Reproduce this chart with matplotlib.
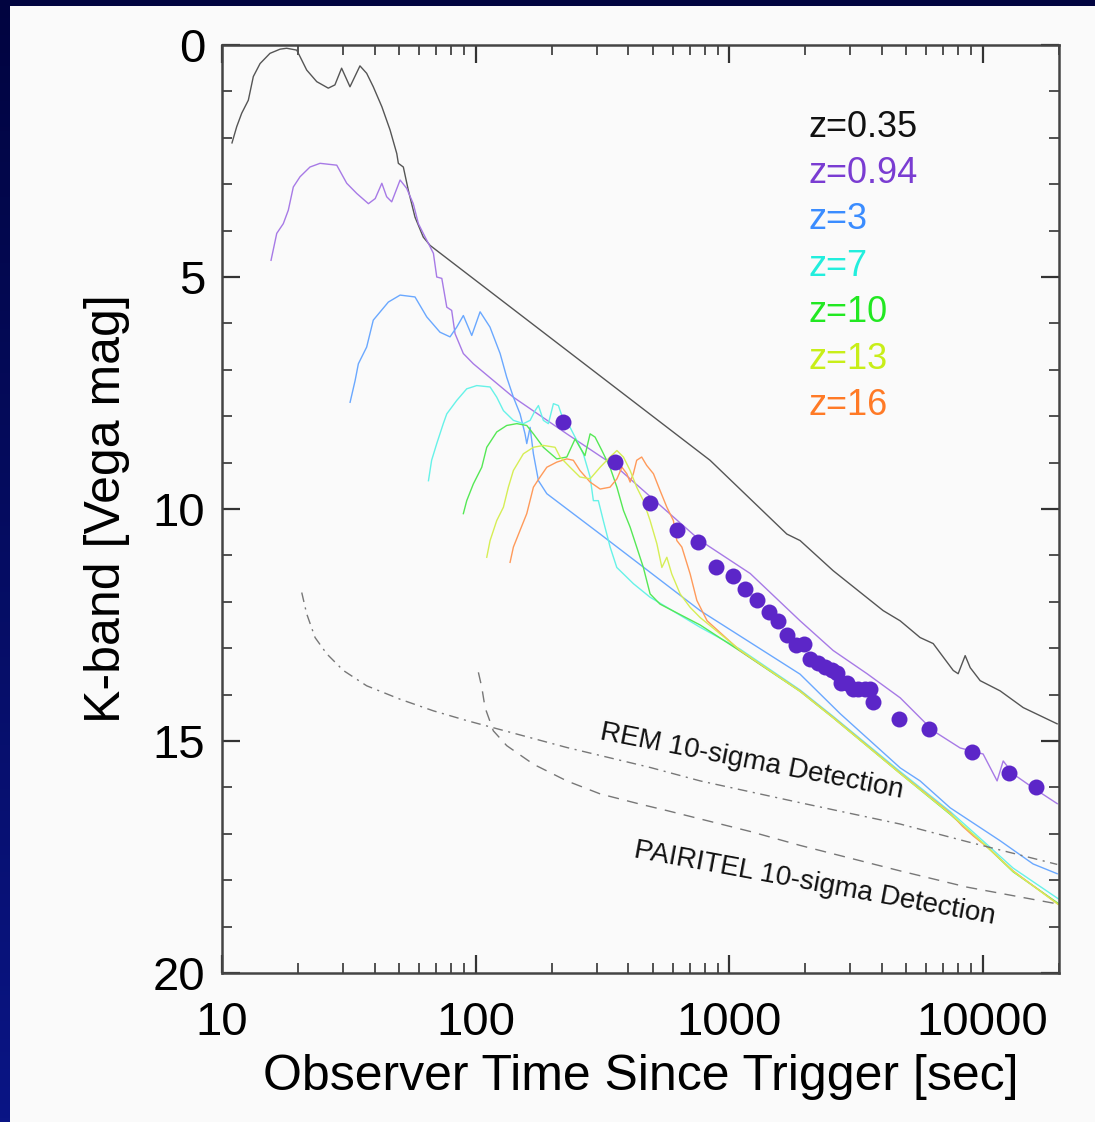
import matplotlib
matplotlib.use("Agg")
import matplotlib.pyplot as plt
import numpy as np
from matplotlib.ticker import FixedLocator, NullFormatter

plt.rcParams['font.family'] = ['Liberation Sans', 'DejaVu Sans']

# ---- light curves (time [s], K mag) ----
t_z035 = [10.95, 11.43, 11.96, 12.70, 13.29, 14.13, 15.46, 16.94, 17.99, 19.71, 20.31, 21.58,
          23.64, 26.25, 27.88, 29.63, 31.97, 35.0, 37.2, 39.5, 42.7, 46.0, 48.9, 49.6, 51.9,
          54.3, 57.7, 62.2, 66.2, 841, 1689, 1905, 2573, 4051, 4727, 5664, 6380, 7656, 8004,
          8531, 8931, 9777, 11720, 14450, 19670]
m_z035 = [2.11, 1.76, 1.47, 1.19, 0.68, 0.40, 0.18, 0.09, 0.07, 0.11, 0.25, 0.54,
          0.79, 0.93, 0.86, 0.50, 0.90, 0.45, 0.61, 0.90, 1.33, 1.83, 2.34, 2.55, 2.63,
          3.13, 3.71, 4.14, 4.32, 8.95, 10.54, 10.68, 11.33, 12.19, 12.41, 12.77, 12.90, 13.48, 13.55,
          13.16, 13.42, 13.70, 13.92, 14.28, 14.63]

t_z094 = [15.61, 16.44, 17.45, 18.26, 19.11, 20.31, 22.23, 24.36, 28.35, 31.04, 34.0, 37.8,
          40.2, 42.7, 44.6, 46.7, 50.4, 53.5, 56.8, 59.5, 62.2, 66.2, 68.2, 70.3, 73.6, 77.0,
          80.5, 83.0, 89.5, 98.0, 140.9, 229, 361, 769, 1211, 1905, 2573, 3500, 4730, 6380,
          8150, 10040, 11400, 12050, 13190, 15810, 19680]
m_z094 = [4.64, 4.06, 3.85, 3.56, 3.06, 2.84, 2.63, 2.55, 2.59, 2.98, 3.20, 3.42,
          3.31, 2.98, 3.27, 3.38, 2.91, 3.09, 3.42, 3.85, 4.06, 4.35, 4.49, 5.00, 5.03, 5.65,
          5.72, 6.22, 6.65, 6.87, 7.59, 8.38, 9.10, 10.68, 11.39, 12.41, 13.05, 13.55, 14.07, 14.78,
          15.15, 15.28, 15.86, 15.43, 15.71, 16.01, 16.35]

t_z3 = [32.0, 33.5, 34.5, 37.2, 39.5, 45.3, 50.4, 57.7, 64.2, 72.4, 79.3, 84.3, 89.5, 96.6,
        104.2, 114.0, 125.0, 132.7, 141, 149.8, 156.7, 159.2, 164.1, 169.1, 177.0, 191.0, 310,
        769, 1905, 2740, 4730, 5665, 7445, 11720, 15810, 19670]
m_z3 = [7.70, 7.23, 6.87, 6.51, 5.93, 5.54, 5.39, 5.43, 5.86, 6.19, 6.29, 6.08, 5.83, 6.26,
        5.75, 6.08, 6.65, 7.16, 7.59, 7.95, 8.38, 8.59, 8.24, 8.81, 9.39, 9.67, 10.54,
        12.19, 13.56, 14.41, 15.58, 15.86, 16.44, 17.15, 17.65, 17.86]

t_z7 = [65.2, 67.1, 70.3, 74.6, 77.0, 84.3, 92.3, 101.1, 114.1, 121.2, 128.8, 141, 154.4, 164.1,
        171.7, 177, 185.1, 193.7, 202.8, 212.2, 222.1, 235.9, 250.6, 266, 283, 291.5, 305, 319,
        339.4, 360.6, 419.4, 487.5, 769, 1104, 1905, 2573, 4730, 7445, 10500, 13190, 19860]
m_z7 = [9.39, 8.95, 8.59, 8.16, 7.95, 7.66, 7.41, 7.34, 7.37, 7.59, 7.88, 8.09, 8.16, 8.09,
        7.88, 7.77, 8.09, 8.16, 7.73, 7.77, 8.09, 8.24, 8.52, 8.81, 9.31, 9.82, 9.82, 10.25,
        10.82, 11.26, 11.61, 11.90, 12.55, 13.02, 13.90, 14.47, 15.66, 16.52, 17.25, 17.74, 18.40]

t_z10 = [89.5, 92.3, 98.0, 105.8, 110.7, 121.2, 132.7, 145.4, 159.2, 169.1, 185.1, 209, 229,
         247, 258, 270, 283, 296, 315, 339, 361, 383, 407, 432, 459, 488, 534, 769, 1104, 1905,
         2573, 4730, 7445, 10500, 13190, 19860]
m_z10 = [10.10, 9.82, 9.46, 9.10, 8.67, 8.34, 8.20, 8.16, 8.20, 8.38, 8.67, 8.92, 8.88,
         8.49, 8.67, 8.85, 8.38, 8.45, 8.74, 9.10, 9.53, 10.03, 10.39, 10.82, 11.26, 11.83, 12.05,
         12.50, 13.06, 13.93, 14.50, 15.70, 16.58, 17.30, 17.82, 18.50]

t_z13 = [110.7, 114.1, 121.2, 128.8, 134.7, 141, 154.4, 169.1, 185.1, 205.9, 215.4, 235.9, 258,
         283, 310, 339, 361, 383, 407, 432, 459, 488, 519, 543, 568, 594, 641, 702, 769, 1104,
         1905, 2573, 4730, 7445, 10500, 13190, 19860]
m_z13 = [11.04, 10.68, 10.25, 9.96, 9.53, 9.17, 8.81, 8.67, 8.63, 8.67, 8.88, 9.10, 9.31,
         9.35, 9.10, 8.88, 8.74, 8.88, 9.17, 9.53, 9.82, 10.25, 10.75, 11.26, 11.04, 11.40, 11.83,
         12.12, 12.34, 13.04, 13.93, 14.50, 15.70, 16.57, 17.30, 17.81, 18.52]

t_z16 = [136.8, 141, 149.8, 159.2, 169.1, 179.7, 191, 209, 229, 243, 258, 283, 310, 339, 361,
         378, 395, 407, 419, 432, 452, 473, 503, 534, 568, 603, 622, 651, 702, 746, 819, 1104,
         1905, 2573, 4730, 7445, 8300, 9200, 10500, 13190, 19860]
m_z16 = [11.15, 10.82, 10.46, 10.10, 9.53, 9.31, 9.10, 8.99, 8.92, 8.95, 9.17, 9.42, 9.57,
         9.53, 9.35, 9.10, 9.24, 9.42, 9.24, 8.95, 8.88, 9.06, 9.24, 9.60, 9.96, 10.25, 10.68,
         10.82, 11.40, 11.97, 12.41, 13.05, 13.92, 14.49, 15.69, 16.55, 16.83, 17.05, 17.30, 17.80, 18.52]

# ---- observed points (z=0.94 burst) ----
t_obs = [222, 355, 488, 624, 755, 886, 1034, 1156, 1293, 1435, 1565, 1699, 1838, 1977, 2087,
         2251, 2392, 2541, 2660, 2758, 2929, 3090, 3236, 3440, 3597, 3690, 4686, 6150, 9058,
         12720, 16250]
m_obs = [8.13, 8.98, 9.87, 10.46, 10.72, 11.26, 11.44, 11.72, 11.96, 12.21, 12.42, 12.71, 12.93,
         12.92, 13.23, 13.32, 13.41, 13.48, 13.53, 13.74, 13.74, 13.88, 13.88, 13.88, 13.88, 14.17,
         14.53, 14.74, 15.23, 15.70, 16.00]

# ---- detection limits ----
t_rem = [20.63, 21.58, 23.28, 25.88, 30.1, 37.2, 50.4, 68.2, 92.3, 145.4, 229, 488, 769, 1905,
         4730, 8690, 19680]
m_rem = [11.80, 12.26, 12.77, 13.12, 13.48, 13.81, 14.10, 14.35, 14.56, 14.85, 15.14, 15.57,
         15.86, 16.33, 16.79, 17.17, 17.66]
t_pai = [102.6, 105.8, 109, 117.5, 132.7, 169.1, 229, 310, 445, 569, 1211, 1905, 4730, 8690, 19680]
m_pai = [13.52, 13.84, 14.28, 14.78, 15.10, 15.50, 15.86, 16.14, 16.36, 16.50, 16.95, 17.25,
         17.80, 18.15, 18.51]

labels = ['z=0.35', 'z=0.94', 'z=3', 'z=7', 'z=10', 'z=13', 'z=16']
text_colors = ['#111111', '#7a3cd2', '#3a8cff', '#22eedd', '#22e822', '#c8ee18', '#ff7a26']
line_colors = ['#555555', '#a77ae6', '#6aa8ff', '#66f2e8', '#55e855', '#d6ee55', '#ff9a5a']

fig = plt.figure(figsize=(10.95, 11.22), dpi=100)
fig.patch.set_facecolor('#fafafa')

# navy slide frame (top and left)
frame_top = fig.add_axes([0, 1 - 6 / 1122, 1, 6 / 1122])
frame_top.set_axis_off()
frame_top.add_patch(plt.Rectangle((0, 0), 1, 1, color='#010440', transform=frame_top.transAxes))
frame_left = fig.add_axes([0, 0, 10 / 1095, 1])
grad = np.linspace(0, 1, 256).reshape(-1, 1)
frame_left.imshow(grad, aspect='auto', cmap=matplotlib.colors.LinearSegmentedColormap.from_list(
    'navy', ['#0a1585', '#010440']), origin='lower', extent=[0, 1, 0, 1])
frame_left.set_axis_off()

ax = fig.add_axes([222 / 1095, 1 - 973 / 1122, (1059 - 222) / 1095, (973 - 45) / 1122])
ax.set_facecolor('#fafafa')

curves = [(t_z035, m_z035), (t_z094, m_z094), (t_z3, m_z3), (t_z7, m_z7),
          (t_z10, m_z10), (t_z13, m_z13), (t_z16, m_z16)]
order = [0, 1, 2, 3, 4, 6, 5]
for i in order:
    t, m = curves[i]
    ax.plot(t, m, color=line_colors[i], lw=1.0, zorder=2)

ax.plot(t_obs, m_obs, 'o', color='#5c26c8', ms=11.5, mec='none', zorder=4)

ax.plot(t_rem, m_rem, color='#777777', lw=1.0, dashes=[7, 4, 1.5, 4])
ax.plot(t_pai, m_pai, color='#777777', lw=1.0, dashes=[8, 6])

for i, lab in enumerate(labels):
    ax.text(2050, 1.77 + i, lab, color=text_colors[i], fontsize=26, va='center', ha='left')

ax.text(1233, 15.45, 'REM 10-sigma Detection', fontsize=20, rotation=-11,
        rotation_mode='anchor', ha='center', va='center', color='#111111')
ax.text(2180, 18.08, 'PAIRITEL 10-sigma Detection', fontsize=20, rotation=-10.5,
        rotation_mode='anchor', ha='center', va='center', color='#111111')

ax.set_xscale('log')
ax.set_xlim(10, 20000)
ax.set_ylim(20, 0)

ax.xaxis.set_major_locator(FixedLocator([10, 100, 1000, 10000]))
ax.set_xticklabels(['10', '100', '1000', '10000'])
minors = [k * 10 ** d for d in range(1, 5) for k in range(2, 10) if k * 10 ** d <= 20000]
ax.xaxis.set_minor_locator(FixedLocator(minors))
ax.xaxis.set_minor_formatter(NullFormatter())
ax.yaxis.set_major_locator(FixedLocator([0, 5, 10, 15, 20]))
ax.yaxis.set_minor_locator(FixedLocator(list(range(0, 21))))

ax.tick_params(which='both', direction='in', top=True, right=True, color='#333333')
ax.tick_params(which='major', length=13, width=1.6, labelsize=34, pad=20)
ax.tick_params(which='minor', length=7, width=1.2)
ax.tick_params(axis='y', which='major', pad=12)
for s in ax.spines.values():
    s.set_color('#444444')
    s.set_linewidth(1.8)

ax.set_xlabel('Observer Time Since Trigger [sec]', fontsize=36, labelpad=7)
ax.set_ylabel('K-band [Vega mag]', fontsize=36, labelpad=16)

fig.savefig('out.png', dpi=100, facecolor=fig.get_facecolor())
